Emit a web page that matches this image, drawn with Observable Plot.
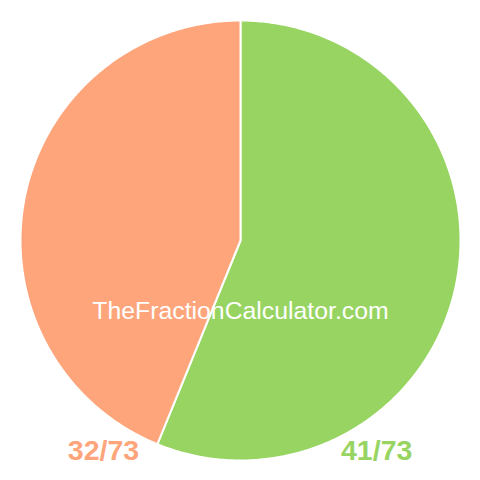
<!DOCTYPE html>
<html>
<head>
<meta charset="utf-8">
<script src="https://cdn.jsdelivr.net/npm/d3@7"></script>
<script src="https://cdn.jsdelivr.net/npm/@observablehq/plot@0.6"></script>
<style>
  html, body { margin: 0; padding: 0; background: #fff; }
</style>
</head>
<body>
<div id="chart"></div>
<script>
// Data
const fractions = ["41/73", "32/73"];
const numerators = [41, 32];
const sliceColors = ["#98d462", "#fea57b"];
const watermark = "TheFractionCalculator.com";

// Slice angles from the data (clockwise from 12 o'clock)
const arcs = d3.pie().sort(null)(numerators);
const slices = [];
arcs.forEach((a, i) => {
  const n = Math.max(2, Math.ceil((a.endAngle - a.startAngle) / 0.01));
  const pts = [{x: 0, y: 0, k: fractions[i]}];
  for (let j = 0; j <= n; j++) {
    const t = a.startAngle + (a.endAngle - a.startAngle) * j / n;
    pts.push({x: Math.sin(t), y: Math.cos(t), k: fractions[i]});
  }
  pts.push({x: 0, y: 0, k: fractions[i]});
  slices.push({pts, color: sliceColors[i]});
});

const R = 220;
const cx = 240, cy = 240;

const marks = slices.map(s => Plot.line(s.pts, {
  x: "x", y: "y", fill: s.color, stroke: "#fff", strokeWidth: 2, strokeLinejoin: "round", curve: "linear"
}));

// Labels
marks.push(Plot.text([fractions[1]], {
  x: -0.623, y: -0.954, text: d => d, fill: sliceColors[1],
  fontSize: 28.5, fontWeight: "bold", fontFamily: "Liberation Sans, Arial, sans-serif"
}));
marks.push(Plot.text([fractions[0]], {
  x: 0.619, y: -0.954, text: d => d, fill: sliceColors[0],
  fontSize: 28.5, fontWeight: "bold", fontFamily: "Liberation Sans, Arial, sans-serif"
}));
marks.push(Plot.text([watermark], {
  x: 0, y: -0.322, text: d => d, fill: "#fff",
  fontSize: 24.8, fontFamily: "Liberation Sans, Arial, sans-serif"
}));

const chart = Plot.plot({
  width: 480,
  height: 480,
  margin: 0,
  x: {domain: [-1, 1], range: [cx - R, cx + R], axis: null},
  y: {domain: [-1, 1], range: [cy + R, cy - R], axis: null},
  style: {background: "#fff", overflow: "visible"},
  marks
});
document.getElementById("chart").appendChild(chart);
</script>
</body>
</html>
